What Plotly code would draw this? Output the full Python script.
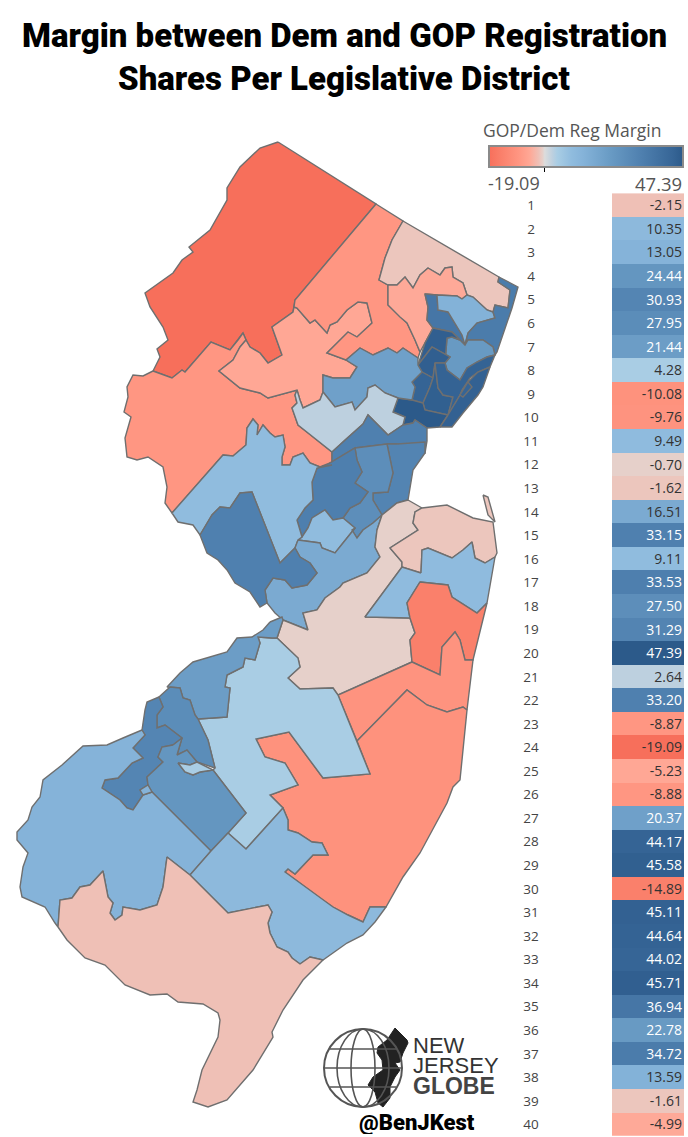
import plotly.graph_objects as go
from plotly.colors import sample_colorscale

# Registration margin per legislative district, row 1 to 40
districts = list(range(1, 41))
margins = [-2.15, 10.35, 13.05, 24.44, 30.93, 27.95, 21.44, 4.28, -10.08, -9.76,
           9.49, -0.70, -1.62, 16.51, 33.15, 9.11, 33.53, 27.50, 31.29, 47.39,
           2.64, 33.20, -8.87, -19.09, -5.23, -8.88, 20.37, 44.17, 45.58, -14.89,
           45.11, 44.64, 44.02, 45.71, 36.94, 22.78, 34.72, 13.59, -1.61, -4.99]
margin_labels = ["%.2f" % m for m in margins]
min_margin = -19.09
max_margin = 47.39

# colour stops (margin, colour)
stops = [(-19.09, "#f76f5b"), (-14.89, "#fa806b"), (-8.87, "#ff9682"), (-5.23, "#ffa795"),
         (-2.15, "#efc0b6"), (-0.70, "#e6d0ca"), (0.0, "#dcdcdc"), (2.64, "#bdd0df"),
         (4.28, "#a9cde4"), (9.11, "#90bcde"), (13.05, "#85b3d9"), (22.0, "#6a9cc5"),
         (33.0, "#4f80af"), (44.0, "#366596"), (47.39, "#2c5a8a")]
colorscale = [[(v - min_margin) / (max_margin - min_margin), c] for v, c in stops]

# District outlines
ld24 = [(278,142),(376,204),(295,300),(294,307),(293,312),(272,327),(282,355),(268,363),(260,353),(250,347),
        (246,340),(243,333),(238,340),(230,350),(211,342),(185,372),(182,370),(172,378),(153,371),(160,357),
        (157,349),(168,340),(163,327),(150,307),(145,293),(173,273),(182,260),(193,252),(189,247),(210,230),
        (227,200),(227,188),(240,167),(260,148)]
ld23 = [(153,371),(172,378),(182,370),(185,372),(211,342),(230,350),(238,340),(243,333),(246,340),(240,347),
        (233,360),(219,371),(240,388),(260,393),(268,398),(297,390),(295,395),(297,403),(292,408),(298,425),
        (307,432),(317,440),(332,452),(332,465),(320,467),(310,463),(303,453),(293,457),(290,465),(282,465),
        (282,457),(285,447),(283,435),(275,437),(270,433),(263,425),(257,435),(258,425),(253,419),(247,428),
        (246,445),(233,456),(223,455),(172,513),(165,503),(167,487),(163,467),(148,457),(137,460),(127,457),
        (125,438),(131,417),(124,412),(128,397),(127,387),(133,375),(143,376)]
ld25 = [(240,347),(246,340),(250,347),(260,353),(268,363),(282,355),(272,327),(293,312),(294,307),(297,308),
        (310,323),(315,320),(327,333),(330,325),(337,322),(347,310),(358,302),(367,303),(372,323),(357,337),
        (348,332),(327,353),(346,360),(357,367),(350,378),(333,378),(323,375),(323,392),(320,400),(303,408),
        (300,400),(297,390),(268,398),(260,393),(240,388),(219,371),(233,360)]
ld26 = [(376,204),(403,221),(392,240),(385,258),(379,280),(388,285),(388,305),(400,317),(407,323),(415,340),
        (420,352),(418,358),(403,348),(397,353),(388,348),(373,355),(360,348),(346,360),(327,353),(348,332),
        (357,337),(372,323),(367,303),(358,302),(347,310),(337,322),(330,325),(327,333),(315,320),(310,323),
        (297,308),(294,307),(295,300)]
ld39 = [(403,221),(499,277),(498,282),(510,290),(508,308),(495,305),(493,312),(487,310),(473,297),(467,295),
        (463,283),(453,277),(452,267),(445,268),(440,275),(428,268),(420,275),(413,288),(405,277),(397,285),
        (388,285),(379,280),(385,258),(392,240)]
ld40 = [(388,285),(397,285),(405,277),(413,288),(420,275),(428,268),(440,275),(445,268),(452,267),(453,277),
        (463,283),(467,295),(462,299),(457,296),(437,295),(425,294),(428,307),(427,320),(433,328),(425,343),
        (420,352),(415,340),(407,323),(400,317),(388,305)]
ld35 = [(425,294),(437,295),(438,310),(448,312),(462,335),(465,345),(460,340),(452,332),(433,328),(427,320),(428,307)]
ld38 = [(437,295),(457,296),(462,299),(467,295),(473,297),(487,310),(493,312),(495,318),(477,323),(468,333),
        (465,345),(462,335),(448,312),(438,310)]
ld37 = [(499,277),(518,287),(512,308),(497,352),(495,355),(493,347),(483,340),(468,340),(465,345),(468,333),
        (477,323),(495,318),(493,312),(495,305),(508,308),(510,290),(498,282)]
ld36 = [(452,337),(460,340),(465,345),(468,340),(483,340),(493,347),(495,355),(487,357),(477,362),(467,368),
        (460,380),(447,370),(445,363),(447,338)]
ld34 = [(433,328),(452,332),(460,340),(452,337),(447,338),(445,363),(450,357),(432,347),(418,365),(425,343)]
ld34b = [(432,347),(450,357),(445,363),(435,363),(433,378),(422,372),(418,365)]
ld28 = [(422,372),(433,378),(430,387),(423,403),(412,400),(415,387),(412,382)]
ld29 = [(435,363),(438,388),(443,395),(453,397),(448,415),(425,410),(423,403),(430,387),(433,378)]
ld20 = [(398,398),(412,400),(423,403),(425,410),(448,415),(440,427),(427,428),(415,420),(413,423),(403,425),
        (405,417),(393,412)]
ld32 = [(435,363),(445,363),(447,370),(460,380),(467,368),(477,362),(487,357),(495,355),(490,367),(478,372),
        (470,378),(462,390),(460,395),(455,403),(448,415),(453,397),(443,395),(438,388)]
ld31 = [(448,415),(455,403),(460,395),(468,382),(478,372),(490,367),(483,387),(478,395),(463,413),(452,427),
        (440,427)]
ld33 = [(468,382),(472,387),(463,397),(460,395)]
ld27 = [(346,360),(360,348),(373,355),(388,348),(397,353),(403,348),(418,358),(418,365),(422,372),(412,382),
        (415,387),(412,400),(398,398),(385,393),(375,385),(368,388),(367,397),(355,410),(352,402),(335,407),
        (323,392),(323,375),(333,378),(350,378),(357,367)]
ld21 = [(297,390),(295,395),(297,403),(292,408),(298,425),(307,432),(317,440),(332,452),(345,440),(363,424),
        (368,415),(388,435),(403,425),(405,417),(393,412),(398,398),(385,393),(375,385),(368,388),(367,397),
        (355,410),(352,402),(335,407),(323,392),(320,400),(303,408),(300,400)]
ld22 = [(332,452),(345,440),(363,424),(368,415),(388,435),(403,425),(413,423),(415,420),(427,428),(427,441),
        (425,453),(397,444),(387,444),(355,448),(330,463),(332,465)]
ld19 = [(387,444),(397,444),(425,442),(425,453),(413,470),(408,500),(397,503),(382,515),(373,500),(373,493),
        (388,492),(393,473)]
ld18 = [(355,448),(387,444),(393,473),(388,492),(373,493),(373,500),(382,515),(373,523),(363,530),(357,538),
        (352,530),(355,528),(343,518),(350,508),(360,503),(368,492),(355,483),(362,472),(357,460)]
ld17 = [(330,463),(355,448),(357,460),(362,472),(355,483),(368,492),(360,503),(350,508),(343,518),(333,520),
        (325,510),(312,518),(308,528),(302,537),(297,520),(305,508),(313,500),(312,482),(317,468)]
ld16b = [(312,518),(325,510),(333,520),(343,518),(355,528),(343,543),(335,553),(322,548),(320,543),(298,540),
         (302,537),(308,528)]
ld16 = [(172,513),(223,455),(233,456),(246,445),(247,428),(253,419),(258,425),(257,435),(263,425),(270,433),
        (275,437),(283,435),(285,447),(282,457),(282,465),(290,465),(293,457),(303,453),(310,463),(320,467),
        (332,465),(317,468),(312,482),(313,500),(305,508),(297,520),(302,537),(298,540),(295,548),(280,563),
        (252,492),(240,493),(230,508),(220,507),(212,515),(200,535),(193,525),(178,522)]
ld15 = [(200,535),(212,515),(220,507),(230,508),(240,493),(252,492),(280,563),(295,548),(300,557),(310,563),
        (317,573),(307,585),(292,588),(285,580),(273,578),(265,590),(267,603),(260,607),(250,592),(235,583),
        (227,570),(218,560),(207,553)]
ld14 = [(298,540),(320,543),(322,548),(335,553),(343,543),(355,528),(352,530),(357,538),(363,530),(373,523),
        (382,515),(377,530),(375,547),(380,557),(367,573),(343,583),(340,587),(325,598),(317,610),(303,613),
        (308,630),(283,620),(275,613),(267,603),(265,590),(273,578),(285,580),(292,588),(307,585),(317,573),
        (310,563),(300,557),(295,548)]
ld13_hook = [(483,495),(488,497),(495,522),(488,515)]
ld12 = [(408,500),(422,508),(415,512),(413,523),(418,530),(390,548),(402,562),(402,567),(365,617),(410,618),
        (415,633),(410,640),(412,662),(338,695),(333,688),(300,689),(288,678),(300,667),(298,658),(277,638),
        (283,620),(308,630),(303,613),(317,610),(325,598),(340,587),(343,583),(367,573),(380,557),(375,547),
        (377,530),(382,515),(397,503)]
ld13 = [(390,548),(418,530),(413,523),(415,512),(422,508),(430,507),(447,505),(473,518),(493,522),(497,553),
        (495,557),(485,563),(475,558),(472,542),(463,550),(452,558),(428,548),(422,550),(421,573),(402,567),
        (402,562)]
ld11 = [(421,573),(422,550),(428,548),(452,558),(463,550),(472,542),(475,558),(485,563),(495,557),(487,603),
        (477,613),(452,597),(448,585),(420,582),(407,603),(410,618),(365,617),(402,567)]
ld30 = [(420,582),(448,585),(452,597),(477,613),(487,603),(473,660),(465,660),(460,640),(455,632),(442,647),
        (440,675),(412,662),(410,640),(415,633),(410,618),(407,603)]
ld10 = [(412,662),(440,675),(442,647),(455,632),(460,640),(465,660),(473,660),(467,710),(463,707),(447,712),
        (427,705),(407,690),(357,741),(338,695)]
ld9 = [(357,741),(407,690),(427,705),(447,712),(463,707),(467,710),(460,780),(453,787),(447,803),(420,853),
       (403,877),(386,907),(370,907),(363,922),(348,915),(333,907),(320,898),(285,872),(288,869),(295,874),
       (313,855),(328,855),(322,843),(312,842),(298,833),(288,830),(288,820),(283,808),(270,795),
       (298,785),(285,763),(265,757),(256,739),(289,732),(323,778),(370,774)]
ld8 = [(277,638),(272,638),(258,637),(260,643),(255,660),(245,658),(243,667),(227,675),(225,687),(230,688),
       (227,717),(198,719),(208,740),(215,768),(213,770),(246,813),(228,833),(246,849),(283,808),(270,795),
       (298,785),(285,763),(265,757),(256,739),(289,732),(323,778),(370,774),(338,695),(333,688),(300,689),
       (288,678),(300,667),(298,658)]
ld8_sliver = [(178,763),(190,765),(197,762),(213,770),(200,772),(193,775),(185,772)]
ld7 = [(270,622),(282,617),(283,620),(277,638),(272,638),(258,637),(260,643),(255,660),(245,658),(243,667),
       (227,675),(225,687),(230,688),(227,717),(198,719),(195,715),(190,700),(183,698),(180,688),(170,687),
       (167,687),(180,673),(193,662),(227,652),(237,638),(252,637),(263,630)]
ld6 = [(170,687),(180,688),(183,698),(190,700),(195,715),(198,719),(208,740),(215,768),(197,762),(187,750),
       (177,755),(182,738),(165,725),(157,728),(157,715),(163,707),(159,697)]
ld5 = [(159,697),(163,707),(157,715),(157,728),(165,725),(182,738),(173,745),(162,747),(158,757),(163,762),
       (147,777),(148,785),(140,790),(143,795),(133,810),(127,808),(120,800),(102,788),(105,780),(118,778),
       (132,763),(143,758),(133,748),(145,735),(142,730),(145,710),(147,702)]
ld4 = [(173,745),(182,738),(177,755),(187,750),(197,762),(190,765),(178,763),(185,772),(193,775),(200,772),
       (213,770),(246,813),(228,833),(211,851),(152,792),(148,785),(147,777),(163,762),(158,757),(162,747)]
ld3 = [(142,730),(145,735),(133,748),(143,758),(132,763),(118,778),(105,780),(102,788),(120,800),(127,808),
       (133,810),(143,795),(152,792),(211,851),(190,875),(167,857),(163,887),(157,905),(140,910),(123,907),
       (122,915),(115,920),(110,913),(113,903),(108,897),(103,871),(90,885),(80,887),(72,898),(60,900),(58,927),
       (55,923),(45,907),(22,897),(20,887),(23,867),(28,853),(17,840),(17,832),(28,820),(32,807),(40,797),
       (43,780),(62,765),(83,746),(107,745),(123,738)]
ld3_sliver = [(140,790),(148,785),(152,792),(143,795)]
ld2 = [(190,875),(211,851),(228,833),(246,849),(283,808),(288,820),(288,830),(298,833),(312,842),(322,843),
       (328,855),(313,855),(295,874),(288,869),(285,872),(320,898),(333,907),(348,915),(363,922),(370,907),
       (386,907),(375,922),(363,935),(347,943),(323,960),(310,957),(300,964),(292,958),(288,952),(277,947),
       (270,933),(268,923),(272,912),(268,905),(228,913)]
ld1 = [(58,927),(60,900),(72,898),(80,887),(90,885),(103,871),(108,897),(113,903),(110,913),(115,920),(122,915),
       (123,907),(140,910),(157,905),(163,887),(167,857),(190,875),(228,913),(268,905),(272,912),(268,923),
       (270,933),(277,947),(288,952),(292,958),(300,964),(310,957),(323,960),(303,980),(283,1010),(272,1032),
       (273,1037),(253,1070),(227,1100),(208,1107),(193,1102),(197,1090),(202,1070),(218,1037),(220,1020),
       (218,1013),(203,1004),(178,1002),(167,994),(150,995),(125,985),(105,965),(85,958),(67,940)]

district_shapes = [(24, ld24), (23, ld23), (25, ld25), (26, ld26), (39, ld39), (40, ld40), (35, ld35), (38, ld38),
                   (37, ld37), (36, ld36), (34, ld34), (34, ld34b), (28, ld28), (29, ld29), (20, ld20), (32, ld32),
                   (31, ld31), (33, ld33), (27, ld27), (21, ld21), (22, ld22), (19, ld19), (18, ld18), (17, ld17),
                   (16, ld16b), (16, ld16), (14, ld14), (15, ld15), (13, ld13_hook), (12, ld12), (13, ld13), (11, ld11),
                   (30, ld30), (10, ld10), (9, ld9), (8, ld8), (7, ld7), (6, ld6), (5, ld5), (4, ld4), (8, ld8_sliver),
                   (3, ld3), (3, ld3_sliver), (2, ld2), (1, ld1)]

# silhouette in the logo
logo_state = [(395,1028),(407,1040),(408,1043),(403,1053),(400,1062),(395,1063),(400,1070),(395,1077),(390,1087),
              (390,1098),(383,1107),(378,1103),(375,1092),(368,1085),(373,1077),(383,1070),(382,1060),(377,1053),
              (378,1047),(387,1040)]


def fill_color(value):
    t = (value - min_margin) / (max_margin - min_margin)
    return sample_colorscale(colorscale, [t])[0]


fig = go.Figure()

for num, outline in district_shapes:
    xs = [p[0] for p in outline] + [outline[0][0]]
    ys = [p[1] for p in outline] + [outline[0][1]]
    fig.add_trace(go.Scatter(x=xs, y=ys, mode="lines", fill="toself",
                             fillcolor=fill_color(margins[num - 1]),
                             line=dict(color="#6f6f6f", width=1.4),
                             name="LD %d" % num, showlegend=False, hoverinfo="name"))

# table column, its colour bar is the legend at the top right
fig.add_trace(go.Heatmap(x=[612, 684], y=districts, z=[[m] for m in margins], yaxis="y2",
                         colorscale=colorscale, zmin=min_margin, zmax=max_margin, ygap=0,
                         colorbar=dict(orientation="h", x=489 / 688, xanchor="left", y=(1137 - 146) / 1137,
                                       yanchor="top", thickness=21, thicknessmode="pixels", len=194,
                                       lenmode="pixels", xpad=0, ypad=0, outlinecolor="#8a8a8a", outlinewidth=2,
                                       tickvals=[0], ticks="outside", ticklen=4, tickcolor="black",
                                       tickwidth=1, showticklabels=False),
                         hoverinfo="skip"))

# labels sit a touch below the row centre
text_y = [d + 0.08 for d in districts]
fig.add_trace(go.Scatter(x=[531] * 40, y=text_y, yaxis="y2", mode="text",
                         text=[str(d) for d in districts], textposition="middle center",
                         textfont=dict(family="Open Sans", size=13.5, color="#444444"),
                         showlegend=False, hoverinfo="skip"))
fig.add_trace(go.Scatter(x=[682] * 40, y=text_y, yaxis="y2", mode="text",
                         text=margin_labels, textposition="middle left",
                         textfont=dict(family="Open Sans", size=14,
                                       color=["white" if m >= 20 else "#333333" for m in margins]),
                         showlegend=False, hoverinfo="skip"))

# logo
shapes = [dict(type="circle", x0=324, x1=402, y0=1029, y1=1107, line=dict(color="#555555", width=2)),
          dict(type="circle", x0=337, x1=389, y0=1029, y1=1107, line=dict(color="#555555", width=1.6)),
          dict(type="circle", x0=351, x1=375, y0=1029, y1=1107, line=dict(color="#555555", width=1.6))]
for ly, half in [(1049, 33), (1068, 39), (1087, 33)]:
    shapes.append(dict(type="line", x0=363 - half, x1=363 + half, y0=ly, y1=ly,
                       line=dict(color="#555555", width=1.6)))
fig.add_trace(go.Scatter(x=[p[0] for p in logo_state] + [logo_state[0][0]],
                         y=[p[1] for p in logo_state] + [logo_state[0][1]],
                         mode="lines", fill="toself", fillcolor="#222222", line=dict(color="#222222", width=1),
                         showlegend=False, hoverinfo="skip"))


def label(text, x, y, size, family="Open Sans", color="#555555", anchor="center", weight=None, height=None):
    fig.add_annotation(x=x, y=y, xref="x", yref="y", text=text, showarrow=False, xanchor=anchor,
                       height=height, borderpad=0,
                       font=dict(family=family, size=size, color=color, weight=weight))


label("Margin between Dem and GOP Registration", 344, 35, 33, "Roboto", "black", weight=900)
label("Shares Per Legislative District", 344, 78, 33, "Roboto", "black", weight=900)
label("GOP/Dem Reg Margin", 482, 130, 17.5, anchor="left")
label("-19.09", 487, 183, 18, anchor="left")
label("47.39", 683, 183, 18.5, anchor="right")
label("NEW", 412, 1045, 22, "Liberation Sans", "#333333", "left", height=18)
label("JERSEY", 412, 1065, 22, "Liberation Sans", "#333333", "left", height=18)
label("GLOBE", 412, 1086, 23, "Liberation Sans", "#444444", "left", weight="bold", height=18)
label("@BenJKest", 417, 1122, 22, "Roboto", "black", weight=900, height=24)

fig.update_layout(
    width=688, height=1137, autosize=False,
    margin=dict(l=0, r=0, t=0, b=0),
    paper_bgcolor="white", plot_bgcolor="rgba(0,0,0,0)",
    showlegend=False, shapes=shapes,
    xaxis=dict(range=[0, 688], visible=False, fixedrange=True),
    yaxis=dict(range=[1137, 0], visible=False, fixedrange=True),
    yaxis2=dict(range=[40.5, 0.5], domain=[(1137 - 1135.8) / 1137, (1137 - 193.2) / 1137], anchor="x",
                visible=False, fixedrange=True),
)

# the page's default body margin would push the chart off the right edge
fig.write_html("out.html", config=dict(displayModeBar=False),
               post_script="document.body.style.margin='0';")
